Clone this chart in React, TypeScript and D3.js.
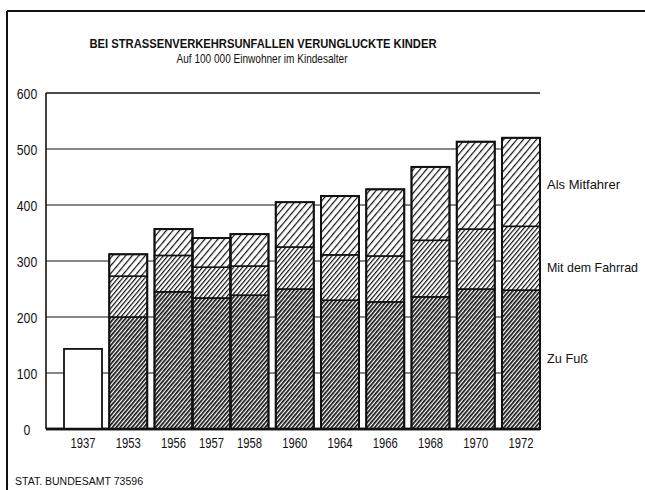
import React from 'react'
import * as d3 from 'd3'

const jahre = ['1937', '1953', '1956', '1957', '1958', '1960', '1964', '1966', '1968', '1970', '1972']
const zuFuss = [0, 200, 245, 234, 239, 250, 230, 227, 236, 250, 248]
const mitDemFahrrad = [0, 73, 65, 55, 52, 75, 81, 82, 101, 107, 114]
const alsMitfahrer = [0, 39, 47, 52, 57, 80, 105, 119, 131, 156, 158]
// 1937 nur Gesamtzahl, ohne Aufteilung
const ohneAufteilung = [143, 0, 0, 0, 0, 0, 0, 0, 0, 0, 0]

const reihen = ['zuFuss', 'mitDemFahrrad', 'alsMitfahrer']
const reihenNamen = ['Zu Fuß', 'Mit dem Fahrrad', 'Als Mitfahrer']
const yTicks = [0, 100, 200, 300, 400, 500, 600]

// schmale Schrift nachbilden (keine Condensed-Schrift installiert)
const FONT = "'Liberation Sans', Arial, sans-serif"
const namenBreite = [41, 91, 73]
const namenWert = [127, 290, 437]

export default function App() {
  const width = 645
  const height = 490
  const plotLeft = 46
  const barsLeft = 64
  const plotRight = 540

  const y = d3.scaleLinear().domain([0, 600]).range([429, 93])

  // Balken direkt aufeinanderfolgender Jahre stoßen aneinander
  const gap = 7.25 / 38
  let gaps = 0
  const units = jahre.map((j, i) => {
    if (i > 0 && +j - +jahre[i - 1] > 1) gaps++
    return i + gaps * gap
  })
  const x = d3
    .scaleLinear()
    .domain([0, jahre.length + gaps * gap])
    .range([barsLeft, plotRight])
  const bw = x(1) - x(0)

  const rows = jahre.map((j, i) => ({
    jahr: j,
    zuFuss: zuFuss[i],
    mitDemFahrrad: mitDemFahrrad[i],
    alsMitfahrer: alsMitfahrer[i]
  }))
  const stacked = d3.stack<any>().keys(reihen)(rows)
  const lastStack = stacked[stacked.length - 1]

  const patterns = [
    {id: 'h0', size: 3.0, line: 1.7},
    {id: 'h1', size: 3.4, line: 1.2},
    {id: 'h2', size: 5.0, line: 1.2}
  ]

  return (
    <svg
      width={width}
      height={height}
      style={{position: 'absolute', left: 0, top: 0, background: '#fff'}}
      fontFamily={FONT}
    >
      <defs>
        {patterns.map(p => (
          <pattern
            key={p.id}
            id={p.id}
            patternUnits="userSpaceOnUse"
            width={p.size}
            height={p.size}
            patternTransform="rotate(40)"
          >
            <rect width={p.size} height={p.size} fill="#fff" />
            <rect width={p.line} height={p.size} fill="#111" />
          </pattern>
        ))}
      </defs>

      {/* Rahmen */}
      <line x1={7} y1={11} x2={645} y2={11} stroke="#111" strokeWidth={2} />
      <line x1={7} y1={11} x2={7} y2={490} stroke="#111" strokeWidth={2} />

      <text
        x={263}
        y={48}
        textAnchor="middle"
        fontSize={13}
        fontWeight="bold"
        textLength={347}
        lengthAdjust="spacingAndGlyphs"
        fill="#111"
      >
        BEI STRASSENVERKEHRSUNFALLEN VERUNGLUCKTE KINDER
      </text>
      <text
        x={262}
        y={63}
        textAnchor="middle"
        fontSize={13}
        textLength={171}
        lengthAdjust="spacingAndGlyphs"
        fill="#111"
      >
        Auf 100 000 Einwohner im Kindesalter
      </text>

      {/* Gitter */}
      {yTicks.map(t => (
        <g key={t}>
          <line
            x1={plotLeft}
            x2={plotRight}
            y1={y(t)}
            y2={y(t)}
            stroke="#111"
            strokeWidth={t === 0 ? 2.5 : t === 600 ? 1.6 : 1.1}
          />
          <text
            x={27}
            y={y(t) + 5.5}
            textAnchor="middle"
            fontSize={15}
            textLength={String(t).length * 6.8}
            lengthAdjust="spacingAndGlyphs"
            fill="#111"
          >
            {t}
          </text>
        </g>
      ))}
      <line x1={plotLeft} x2={plotLeft} y1={y(600)} y2={y(0)} stroke="#111" strokeWidth={1.6} />

      {/* 1937 ohne Aufteilung */}
      {ohneAufteilung.map((v, i) =>
        v > 0 ? (
          <rect
            key={'o' + i}
            x={x(units[i])}
            y={y(v)}
            width={bw}
            height={y(0) - y(v)}
            fill="#fff"
            stroke="#111"
            strokeWidth={1.8}
          />
        ) : null
      )}

      {/* gestapelte Balken */}
      {stacked.map((layer, k) =>
        layer.map((d, i) =>
          d[1] > d[0] ? (
            <rect
              key={k + '-' + i}
              x={x(units[i])}
              y={y(d[1])}
              width={bw}
              height={y(d[0]) - y(d[1])}
              fill={`url(#h${k})`}
              stroke="#111"
              strokeWidth={1.6}
            />
          ) : null
        )
      )}
      {lastStack.map((d, i) =>
        d[1] > 0 ? (
          <rect
            key={'u' + i}
            x={x(units[i])}
            y={y(d[1])}
            width={bw}
            height={y(0) - y(d[1])}
            fill="none"
            stroke="#111"
            strokeWidth={2}
          />
        ) : null
      )}
      <line x1={plotLeft} x2={plotRight} y1={y(0)} y2={y(0)} stroke="#111" strokeWidth={2.5} />

      {/* Jahre */}
      {jahre.map((j, i) => (
        <text
          key={j}
          x={x(units[i]) + bw / 2}
          y={448}
          textAnchor="middle"
          fontSize={15}
          textLength={25}
          lengthAdjust="spacingAndGlyphs"
          fill="#111"
        >
          {j}
        </text>
      ))}

      {/* Reihenbeschriftung */}
      {reihenNamen.map((n, k) => (
        <text
          key={n}
          x={547}
          y={y(namenWert[k]) + 5}
          fontSize={13}
          textLength={namenBreite[k]}
          lengthAdjust="spacingAndGlyphs"
          fill="#111"
        >
          {n}
        </text>
      ))}

      <text x={15} y={485} fontSize={10} textLength={128} lengthAdjust="spacingAndGlyphs" fill="#111">
        STAT. BUNDESAMT 73596
      </text>
    </svg>
  )
}
